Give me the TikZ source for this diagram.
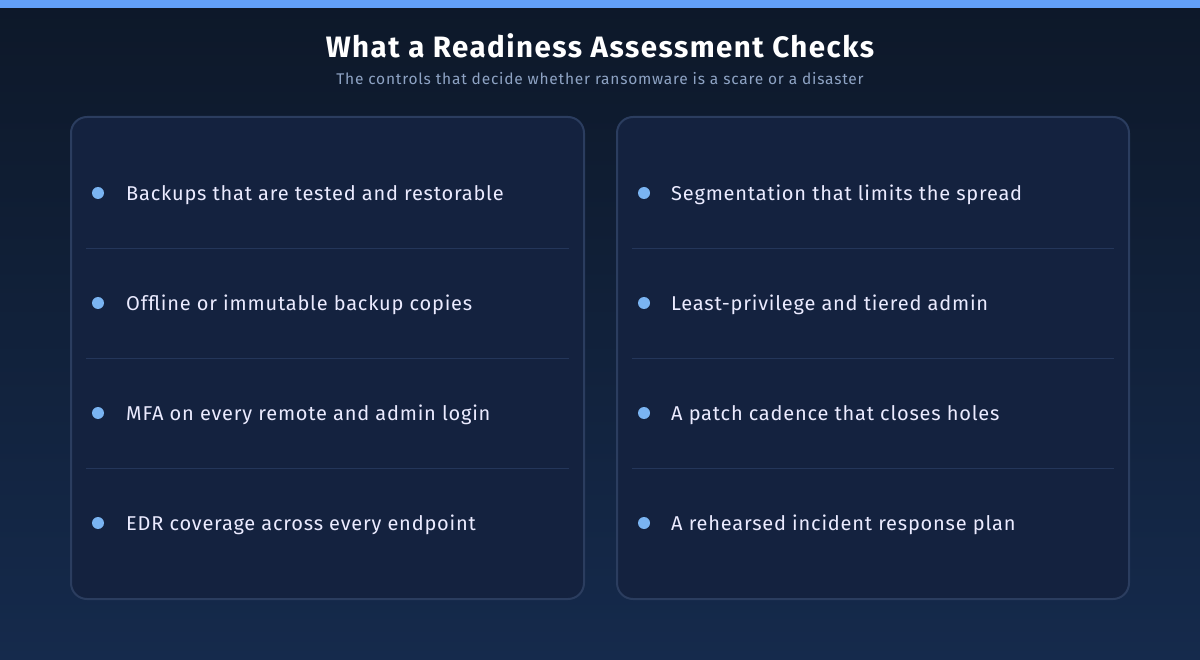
\documentclass[tikz,border=0pt]{standalone}
\usepackage{fontspec}
\setmainfont{Fira Sans}
\newfontfamily\itemfont{Fira Sans}[LetterSpace=4]
\newfontfamily\titlefont{Fira Sans}[LetterSpace=5]
\newfontfamily\subfont{Fira Sans}[LetterSpace=5]
\definecolor{bgtop}{HTML}{0D1829}
\definecolor{bgbot}{HTML}{152A4C}
\definecolor{bar}{HTML}{62A0F8}
\definecolor{card}{HTML}{14223F}
\definecolor{cardline}{HTML}{2B3D5F}
\definecolor{divline}{HTML}{24365A}
\definecolor{dot}{HTML}{7AB4F2}
\definecolor{sub}{HTML}{8EA3C4}
\begin{document}
\begin{tikzpicture}[x=1pt,y=-1pt,
  cardbox/.style={draw=cardline,line width=2pt,fill=card,rounded corners=16pt},
  divider/.style={draw=divline,line width=0.8pt},
  bullet/.style={circle,fill=dot,minimum size=12pt,inner sep=0pt},
  item/.style={anchor=west,text=white!92!blue,font=\itemfont\fontsize{20}{22}\selectfont,inner sep=0pt}]
\useasboundingbox (0,0) rectangle (1200,660);
\shade[top color=bgtop,bottom color=bgbot] (0,0) rectangle (1200,660);
\fill[bar] (0,0) rectangle (1200,8);
\node[text=white,font=\titlefont\bfseries\fontsize{29.5}{32}\selectfont] (title) at (600,46) {What a Readiness Assessment Checks};
\node[text=sub,font=\subfont\fontsize{15.5}{18}\selectfont] (subtitle) at (600,79) {The controls that decide whether ransomware is a scare or a disaster};
\draw[cardbox] (71,117) rectangle (584,599);
\draw[cardbox] (617,117) rectangle (1129,599);
\foreach \y in {248,358,468}{
  \draw[divider] (86,\y) -- (569,\y);
  \draw[divider] (632,\y) -- (1114,\y);
}
\foreach \t [count=\i] in {Backups that are tested and restorable,Offline or immutable backup copies,MFA on every remote and admin login,EDR coverage across every endpoint}{
  \node[bullet] (lb\i) at (98,83+110*\i) {};
  \node[item] (lt\i) at (126,85+110*\i) {\t};
}
\foreach \t [count=\i] in {Segmentation that limits the spread,Least-privilege and tiered admin,A patch cadence that closes holes,A rehearsed incident response plan}{
  \node[bullet] (rb\i) at (644,83+110*\i) {};
  \node[item] (rt\i) at (671,85+110*\i) {\t};
}
\end{tikzpicture}
\end{document}
